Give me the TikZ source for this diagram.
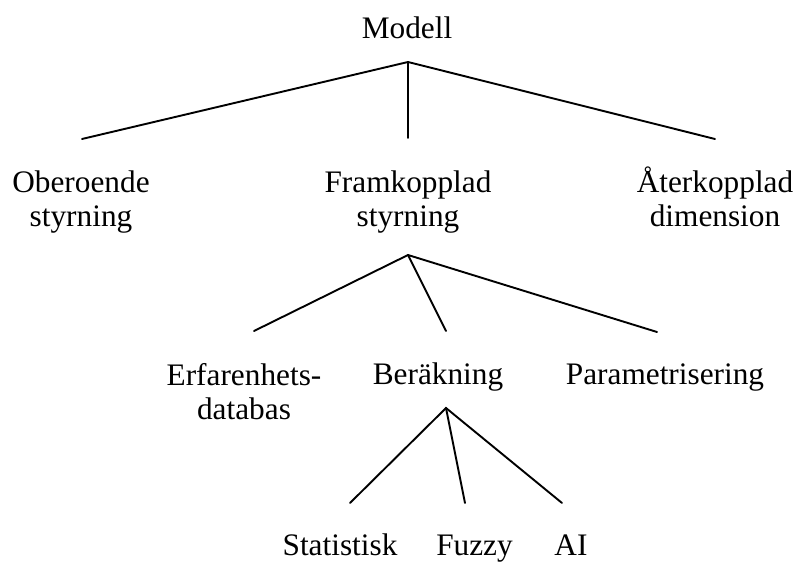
\documentclass[tikz,border=0pt]{standalone}
\usepackage{fontspec}
\setmainfont{Liberation Serif}
\begin{document}
\begin{tikzpicture}[x=1pt,y=1pt,
  label/.style={inner sep=0pt, anchor=base, align=center,
    font=\fontsize{31.3}{34.5}\selectfont},
  branch/.style={line width=1.9pt, line cap=round}]
\useasboundingbox (0,0) rectangle (797,562);

% labels (base anchor of a two-line label sits on its last line)
\node[label] (modell) at (407,523) {Modell};
\node[label] (ober) at (81,335) {Oberoende\\styrning};
\node[label] (fram) at (408,335) {Framkopplad\\styrning};
\node[label] (ater) at (715,335) {Återkopplad\\dimension};
\node[label] (erf) at (244,142) {Erfarenhets-\\databas};
\node[label] (ber) at (438,177) {Beräkning};
\node[label] (par) at (665,177) {Parametrisering};
\node[label] (stat) at (340,7) {Statistisk};
\node[label] (fuzzy) at (474.5,7) {Fuzzy};
\node[label] (ai) at (571,7) {AI};

% junctions and branch ends
\coordinate (j1) at (408,500);
\coordinate (e11) at (82,423);
\coordinate (e12) at (408,424);
\coordinate (e13) at (715,423);
\coordinate (j2) at (408,307);
\coordinate (e21) at (254,231);
\coordinate (e22) at (446,231);
\coordinate (e23) at (657,230);
\coordinate (j3) at (446,154);
\coordinate (e31) at (350,59);
\coordinate (e32) at (465,59);
\coordinate (e33) at (562,59);

\draw[branch] (e11) -- (j1) -- (e13);
\draw[branch] (j1) -- (e12);
\draw[branch] (e21) -- (j2) -- (e23);
\draw[branch] (j2) -- (e22);
\draw[branch] (e31) -- (j3) -- (e33);
\draw[branch] (j3) -- (e32);
\end{tikzpicture}
\end{document}
